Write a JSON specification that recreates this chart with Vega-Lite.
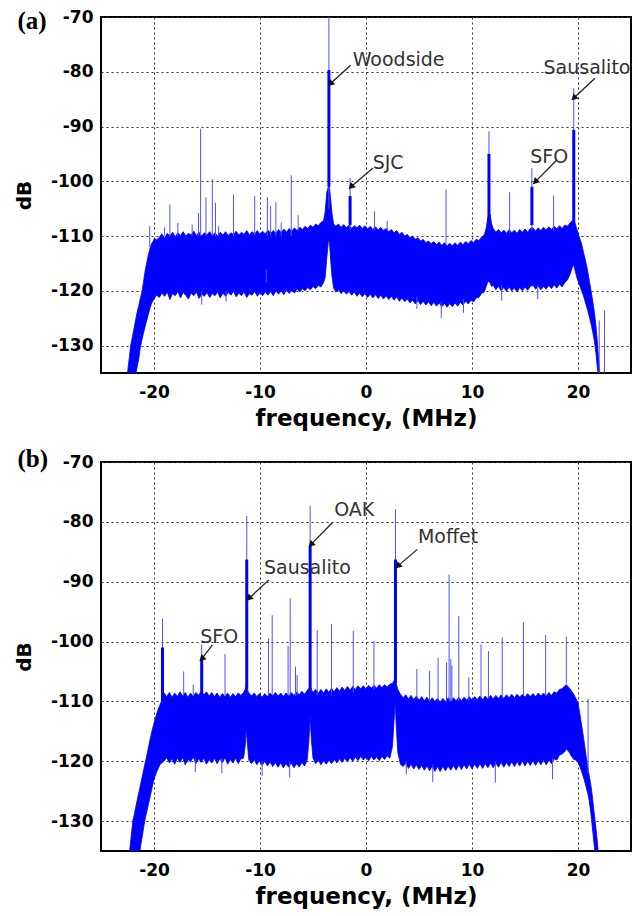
{
"$schema": "https://vega.github.io/schema/vega-lite/v6.json",
"padding": {"left": 13, "top": 7, "right": 5, "bottom": 5},
"spacing": 15,
"datasets": {
"bandA": [
{"f":-22.6,"h":-136,"l":-136},{"f":-22.5,"h":-135,"l":-136},{"f":-22.35,"h":-132.5,"l":-136},{"f":-22.2,"h":-130,"l":-136},{"f":-22.05,"h":-128.5,"l":-136},{"f":-21.9,"h":-127,"l":-136},{"f":-21.75,"h":-125.5,"l":-135.5},{"f":-21.6,"h":-124,"l":-134},{"f":-21.45,"h":-122.8,"l":-132.5},{"f":-21.3,"h":-121.5,"l":-130.5},{"f":-21.15,"h":-120.3,"l":-129},{"f":-21.0,"h":-118.5,"l":-127.8},{"f":-20.85,"h":-116.5,"l":-126.6},{"f":-20.7,"h":-115,"l":-125.5},{"f":-20.55,"h":-113.6,"l":-124.4},{"f":-20.4,"h":-112.4,"l":-123.3},{"f":-20.25,"h":-111.5,"l":-122.4},{"f":-20.1,"h":-111.0,"l":-121.8},{"f":-19.95,"h":-110.4,"l":-121.3},{"f":-19.75,"h":-110.7,"l":-120.8},
{"f":-19.5,"h":-110.2,"l":-121.2},{"f":-19.25,"h":-109.6,"l":-120.4},{"f":-19.0,"h":-110.4,"l":-121.0},{"f":-18.75,"h":-109.5,"l":-120.2},{"f":-18.5,"h":-110.0,"l":-121.6},{"f":-18.25,"h":-109.3,"l":-120.5},{"f":-18.0,"h":-110.1,"l":-120.9},{"f":-17.75,"h":-109.4,"l":-120.1},{"f":-17.5,"h":-109.9,"l":-121.3},{"f":-17.25,"h":-109.2,"l":-120.3},{"f":-17.0,"h":-110.0,"l":-120.8},{"f":-16.75,"h":-109.5,"l":-121.5},{"f":-16.5,"h":-109.8,"l":-120.4},{"f":-16.25,"h":-109.1,"l":-120.9},{"f":-16.0,"h":-109.9,"l":-120.2},{"f":-15.75,"h":-109.3,"l":-121.4},{"f":-15.5,"h":-110.0,"l":-120.6},{"f":-15.25,"h":-109.4,"l":-121.0},{"f":-15.0,"h":-109.8,"l":-120.3},{"f":-14.75,"h":-109.2,"l":-121.2},{"f":-14.5,"h":-109.9,"l":-120.5},{"f":-14.25,"h":-109.4,"l":-120.9},{"f":-14.0,"h":-110.0,"l":-120.2},{"f":-13.75,"h":-109.3,"l":-121.3},{"f":-13.5,"h":-109.8,"l":-120.4},{"f":-13.25,"h":-109.2,"l":-121.0},{"f":-13.0,"h":-109.9,"l":-120.3},{"f":-12.75,"h":-109.4,"l":-120.8},{"f":-12.5,"h":-109.7,"l":-120.1},{"f":-12.25,"h":-109.1,"l":-121.1},{"f":-12.0,"h":-109.8,"l":-120.4},{"f":-11.75,"h":-109.3,"l":-120.9},{"f":-11.5,"h":-109.7,"l":-120.2},{"f":-11.25,"h":-109.0,"l":-121.2},{"f":-11.0,"h":-109.8,"l":-120.5},{"f":-10.75,"h":-109.2,"l":-120.8},{"f":-10.5,"h":-109.6,"l":-120.1},{"f":-10.25,"h":-109.0,"l":-121.0},{"f":-10.0,"h":-109.7,"l":-120.3},{"f":-9.75,"h":-109.1,"l":-120.9},{"f":-9.5,"h":-109.6,"l":-120.2},{"f":-9.25,"h":-108.9,"l":-120.8},{"f":-9.0,"h":-109.5,"l":-120.1},{"f":-8.75,"h":-109.0,"l":-120.9},{"f":-8.5,"h":-109.5,"l":-120.0},{"f":-8.25,"h":-108.8,"l":-120.6},{"f":-8.0,"h":-109.4,"l":-120.0},{"f":-7.75,"h":-108.7,"l":-120.7},{"f":-7.5,"h":-109.3,"l":-119.8},{"f":-7.25,"h":-108.6,"l":-120.5},{"f":-7.0,"h":-109.1,"l":-119.9},{"f":-6.75,"h":-108.5,"l":-120.4},{"f":-6.5,"h":-109.0,"l":-119.7},{"f":-6.25,"h":-108.4,"l":-120.2},{"f":-6.0,"h":-108.8,"l":-119.6},{"f":-5.75,"h":-108.2,"l":-120.0},{"f":-5.5,"h":-108.6,"l":-119.4},{"f":-5.25,"h":-108.0,"l":-119.8},{"f":-5.0,"h":-108.4,"l":-119.2},{"f":-4.75,"h":-107.8,"l":-119.6},{"f":-4.5,"h":-108.1,"l":-119.0},{"f":-4.25,"h":-107.5,"l":-119.3},{"f":-4.0,"h":-107.2,"l":-118.5},{"f":-3.85,"h":-105.5,"l":-117.5},{"f":-3.7,"h":-102,"l":-114},{"f":-3.55,"h":-101,"l":-111},{"f":-3.45,"h":-101,"l":-111},{"f":-3.35,"h":-103,"l":-114},{"f":-3.2,"h":-106,"l":-117.5},{"f":-3.05,"h":-107.8,"l":-119.5},
{"f":-2.85,"h":-108.2,"l":-120.2},{"f":-2.6,"h":-107.8,"l":-119.8},{"f":-2.35,"h":-108.4,"l":-120.5},{"f":-2.1,"h":-107.9,"l":-120.0},{"f":-1.85,"h":-108.5,"l":-120.6},{"f":-1.6,"h":-108.0,"l":-120.1},{"f":-1.35,"h":-108.6,"l":-120.8},{"f":-1.1,"h":-108.1,"l":-120.2},{"f":-0.85,"h":-108.5,"l":-121.0},{"f":-0.6,"h":-108.0,"l":-120.4},{"f":-0.35,"h":-108.6,"l":-121.1},{"f":-0.1,"h":-108.1,"l":-120.5},{"f":0.15,"h":-108.7,"l":-121.2},{"f":0.4,"h":-108.2,"l":-120.6},{"f":0.65,"h":-108.8,"l":-121.3},{"f":0.9,"h":-108.3,"l":-120.7},{"f":1.15,"h":-108.9,"l":-121.4},{"f":1.4,"h":-108.4,"l":-120.8},{"f":1.65,"h":-109.0,"l":-121.5},{"f":1.9,"h":-108.6,"l":-120.9},{"f":2.15,"h":-109.2,"l":-121.6},{"f":2.4,"h":-108.8,"l":-121.0},{"f":2.65,"h":-109.4,"l":-121.7},{"f":2.9,"h":-109.0,"l":-121.1},{"f":3.15,"h":-109.7,"l":-121.9},{"f":3.4,"h":-109.3,"l":-121.3},{"f":3.65,"h":-110.0,"l":-122.0},{"f":3.9,"h":-109.7,"l":-121.5},{"f":4.15,"h":-110.3,"l":-122.2},{"f":4.4,"h":-110.0,"l":-121.7},{"f":4.65,"h":-110.6,"l":-122.4},{"f":4.9,"h":-110.3,"l":-121.8},{"f":5.15,"h":-110.9,"l":-122.5},{"f":5.4,"h":-110.6,"l":-121.9},{"f":5.65,"h":-111.2,"l":-122.6},{"f":5.9,"h":-110.9,"l":-122.0},{"f":6.15,"h":-111.4,"l":-122.7},{"f":6.4,"h":-111.0,"l":-122.1},{"f":6.65,"h":-111.6,"l":-122.8},{"f":6.9,"h":-111.1,"l":-122.2},{"f":7.15,"h":-111.7,"l":-122.9},{"f":7.4,"h":-111.2,"l":-122.3},{"f":7.65,"h":-111.8,"l":-123.0},{"f":7.9,"h":-111.3,"l":-122.3},{"f":8.15,"h":-111.8,"l":-122.9},{"f":8.4,"h":-111.2,"l":-122.2},{"f":8.65,"h":-111.7,"l":-122.8},{"f":8.9,"h":-111.1,"l":-122.1},{"f":9.15,"h":-111.6,"l":-122.6},{"f":9.4,"h":-111.0,"l":-121.9},{"f":9.65,"h":-111.4,"l":-122.4},{"f":9.9,"h":-110.8,"l":-121.7},{"f":10.15,"h":-111.2,"l":-122.0},{"f":10.4,"h":-110.6,"l":-121.3},{"f":10.65,"h":-110.8,"l":-121.2},{"f":10.9,"h":-110.2,"l":-120.5},{"f":11.15,"h":-109.8,"l":-120.2},{"f":11.35,"h":-108.5,"l":-119.2},{"f":11.5,"h":-106.5,"l":-118.2},{"f":11.7,"h":-106.0,"l":-118.5},{"f":11.85,"h":-107.8,"l":-119.2},{"f":12.0,"h":-108.6,"l":-119.0},{"f":12.25,"h":-109.3,"l":-119.8},{"f":12.5,"h":-108.8,"l":-119.2},{"f":12.75,"h":-109.4,"l":-120.0},{"f":13.0,"h":-108.9,"l":-119.4},{"f":13.25,"h":-109.5,"l":-120.1},{"f":13.5,"h":-108.8,"l":-119.3},{"f":13.75,"h":-109.4,"l":-120.0},{"f":14.0,"h":-108.9,"l":-119.5},{"f":14.25,"h":-109.5,"l":-120.2},{"f":14.5,"h":-108.8,"l":-119.4},{"f":14.75,"h":-109.3,"l":-120.0},{"f":15.0,"h":-108.7,"l":-119.3},{"f":15.25,"h":-109.3,"l":-119.9},{"f":15.5,"h":-108.6,"l":-119.2},{"f":15.75,"h":-108.5,"l":-119.0},{"f":16.0,"h":-109.1,"l":-119.7},{"f":16.25,"h":-108.5,"l":-119.1},{"f":16.5,"h":-109.0,"l":-119.8},{"f":16.75,"h":-108.4,"l":-119.2},{"f":17.0,"h":-108.9,"l":-119.7},{"f":17.25,"h":-108.3,"l":-119.0},{"f":17.5,"h":-108.8,"l":-119.6},{"f":17.75,"h":-108.2,"l":-118.9},{"f":18.0,"h":-108.7,"l":-119.5},{"f":18.25,"h":-108.1,"l":-118.8},{"f":18.5,"h":-108.6,"l":-119.3},{"f":18.75,"h":-108.0,"l":-118.5},{"f":19.0,"h":-108.2,"l":-118.0},{"f":19.25,"h":-107.6,"l":-117.0},{"f":19.45,"h":-107.2,"l":-115.8},{"f":19.6,"h":-107.0,"l":-115.2},{"f":19.75,"h":-107.8,"l":-116.5},{"f":19.9,"h":-108.8,"l":-117.6},{"f":20.05,"h":-109.8,"l":-118.5},{"f":20.2,"h":-110.6,"l":-119.2},{"f":20.35,"h":-111.5,"l":-120.0},{"f":20.5,"h":-112.8,"l":-120.8},{"f":20.65,"h":-114.0,"l":-121.8},{"f":20.8,"h":-115.3,"l":-122.8},{"f":20.95,"h":-116.8,"l":-123.8},{"f":21.1,"h":-118.5,"l":-125.0},{"f":21.25,"h":-120.2,"l":-126.2},{"f":21.4,"h":-122.0,"l":-127.6},{"f":21.55,"h":-124.0,"l":-129.2},{"f":21.7,"h":-126.5,"l":-131.5},{"f":21.85,"h":-130.0,"l":-134.5},{"f":22.0,"h":-134,"l":-136},{"f":22.1,"h":-136,"l":-136}
],
"spikesA": [
{"f":-20.4,"h":-108.2,"l":-112},{"f":-19.0,"h":-108.4,"l":-110},{"f":-18.5,"h":-104.2,"l":-110},{"f":-17.75,"h":-107.6,"l":-110},{"f":-16.4,"h":-107.9,"l":-110},{"f":-15.8,"h":-105.8,"l":-110},{"f":-15.6,"h":-90.4,"l":-110},{"f":-15.1,"h":-102.9,"l":-110},{"f":-14.5,"h":-99.6,"l":-110},{"f":-14.2,"h":-103.9,"l":-110},{"f":-13.9,"h":-108.2,"l":-110},{"f":-12.5,"h":-102.4,"l":-110},{"f":-10.5,"h":-102.7,"l":-110},{"f":-9.3,"h":-102.9,"l":-110},{"f":-9.0,"h":-104.5,"l":-110},{"f":-8.5,"h":-103.8,"l":-110},{"f":-8.0,"h":-107.5,"l":-110},{"f":-7.05,"h":-98.9,"l":-110},{"f":-6.4,"h":-106.2,"l":-109},{"f":-3.5,"h":-70,"l":-105},{"f":-1.5,"h":-99.4,"l":-109},{"f":0.8,"h":-105.5,"l":-109},{"f":2.0,"h":-107.2,"l":-109},{"f":7.55,"h":-101.5,"l":-111.5},{"f":11.6,"h":-90.9,"l":-108},{"f":13.55,"h":-102,"l":-109.5},{"f":15.65,"h":-97.6,"l":-109},{"f":17.7,"h":-102.6,"l":-109},{"f":19.6,"h":-83,"l":-108},{"f":22.0,"h":-125.4,"l":-136},{"f":22.5,"h":-123.6,"l":-136},
{"f":-15.5,"h":-120,"l":-122.5},{"f":-13.2,"h":-120,"l":-122},{"f":-9.4,"h":-116,"l":-118.5},{"f":4.8,"h":-121,"l":-123.3},{"f":7.1,"h":-122,"l":-125},{"f":9.2,"h":-121.5,"l":-124},{"f":12.8,"h":-119,"l":-121.8},{"f":16.2,"h":-119,"l":-121.5}
],
"thickA": [
{"f":-3.5,"h":-79.7,"l":-101},{"f":-1.5,"h":-102.7,"l":-108},{"f":11.6,"h":-95,"l":-108},{"f":15.65,"h":-101,"l":-108},{"f":19.6,"h":-90.6,"l":-108}
],
"labelsA": [
{"f":-1.26,"h":-77.85,"t":"Woodside"},{"f":16.75,"h":-79.4,"t":"Sausalito"},{"f":0.63,"h":-96.7,"t":"SJC"},{"f":15.5,"h":-95.5,"t":"SFO"}
],
"arrowsA": [
{"f":-3.37,"h":-82.2,"fs":-1.45,"hs":-78.8},{"f":19.6,"h":-84.8,"fs":21.6,"hs":-81.2},{"f":-1.42,"h":-101,"fs":0.63,"hs":-97.6},{"f":15.96,"h":-100.1,"fs":18.0,"hs":-96.1}
],
"bandB": [
{"f":-22.45,"h":-136,"l":-136},{"f":-22.3,"h":-135,"l":-136},{"f":-22.15,"h":-132.5,"l":-136},{"f":-22.0,"h":-130,"l":-136},{"f":-21.85,"h":-128.8,"l":-136},{"f":-21.7,"h":-127.5,"l":-136},{"f":-21.55,"h":-126.2,"l":-136},{"f":-21.4,"h":-125,"l":-136},{"f":-21.25,"h":-123.7,"l":-134},{"f":-21.1,"h":-122.5,"l":-132.5},{"f":-20.95,"h":-121.2,"l":-130.8},{"f":-20.8,"h":-120,"l":-129.3},{"f":-20.65,"h":-118.8,"l":-128.2},{"f":-20.5,"h":-117.5,"l":-127},{"f":-20.35,"h":-116.2,"l":-125.8},{"f":-20.2,"h":-115,"l":-124.6},{"f":-20.05,"h":-114,"l":-123.4},{"f":-19.9,"h":-113,"l":-122.5},{"f":-19.75,"h":-112.1,"l":-121.8},{"f":-19.6,"h":-111.3,"l":-121.2},{"f":-19.45,"h":-110.6,"l":-120.6},{"f":-19.3,"h":-110.0,"l":-120.3},
{"f":-19.05,"h":-108.6,"l":-120.0},{"f":-18.8,"h":-109.2,"l":-119.4},{"f":-18.55,"h":-108.5,"l":-120.3},{"f":-18.3,"h":-109.3,"l":-119.6},{"f":-18.05,"h":-108.6,"l":-120.5},{"f":-17.8,"h":-109.2,"l":-119.5},{"f":-17.55,"h":-108.4,"l":-120.2},{"f":-17.3,"h":-109.1,"l":-119.4},{"f":-17.05,"h":-108.5,"l":-120.6},{"f":-16.8,"h":-109.3,"l":-119.7},{"f":-16.55,"h":-108.6,"l":-120.1},{"f":-16.3,"h":-109.2,"l":-119.3},{"f":-16.05,"h":-108.5,"l":-120.4},{"f":-15.8,"h":-109.0,"l":-119.6},{"f":-15.55,"h":-108.3,"l":-120.2},{"f":-15.3,"h":-108.9,"l":-119.5},{"f":-15.05,"h":-108.4,"l":-120.5},{"f":-14.8,"h":-109.1,"l":-119.7},{"f":-14.55,"h":-108.5,"l":-120.3},{"f":-14.3,"h":-109.2,"l":-119.5},{"f":-14.05,"h":-108.6,"l":-120.4},{"f":-13.8,"h":-109.3,"l":-119.6},{"f":-13.55,"h":-108.7,"l":-120.2},{"f":-13.3,"h":-109.2,"l":-119.4},{"f":-13.05,"h":-108.6,"l":-120.5},{"f":-12.8,"h":-109.3,"l":-119.7},{"f":-12.55,"h":-108.7,"l":-120.3},{"f":-12.3,"h":-109.2,"l":-119.5},{"f":-12.05,"h":-108.6,"l":-120.4},{"f":-11.8,"h":-109.0,"l":-119.6},{"f":-11.55,"h":-108.5,"l":-119.5},{"f":-11.4,"h":-108.0,"l":-117.5},{"f":-11.3,"h":-107.5,"l":-114.5},{"f":-11.2,"h":-108.0,"l":-117.0},{"f":-11.05,"h":-108.6,"l":-119.8},{"f":-10.8,"h":-109.1,"l":-120.4},{"f":-10.55,"h":-108.6,"l":-119.7},{"f":-10.3,"h":-109.2,"l":-120.6},{"f":-10.05,"h":-108.7,"l":-119.9},{"f":-9.8,"h":-109.3,"l":-120.7},{"f":-9.55,"h":-108.7,"l":-120.0},{"f":-9.3,"h":-109.2,"l":-120.8},{"f":-9.05,"h":-108.6,"l":-120.1},{"f":-8.8,"h":-109.1,"l":-120.9},{"f":-8.55,"h":-108.5,"l":-120.2},{"f":-8.3,"h":-109.1,"l":-121.0},{"f":-8.05,"h":-108.6,"l":-120.3},{"f":-7.8,"h":-109.2,"l":-121.1},{"f":-7.55,"h":-108.6,"l":-120.4},{"f":-7.3,"h":-109.1,"l":-121.0},{"f":-7.05,"h":-108.5,"l":-120.3},{"f":-6.8,"h":-109.0,"l":-121.1},{"f":-6.55,"h":-108.4,"l":-120.4},{"f":-6.3,"h":-108.9,"l":-121.0},{"f":-6.05,"h":-108.3,"l":-120.2},{"f":-5.8,"h":-108.8,"l":-120.8},{"f":-5.55,"h":-108.2,"l":-119.8},{"f":-5.4,"h":-107.8,"l":-117},{"f":-5.27,"h":-107.5,"l":-112.5},{"f":-5.15,"h":-108.0,"l":-116.5},{"f":-5.0,"h":-108.5,"l":-119.5},{"f":-4.75,"h":-108.0,"l":-120.4},{"f":-4.5,"h":-108.6,"l":-119.8},{"f":-4.25,"h":-108.0,"l":-120.6},{"f":-4.0,"h":-108.6,"l":-119.9},{"f":-3.75,"h":-107.9,"l":-120.5},{"f":-3.5,"h":-108.5,"l":-119.8},{"f":-3.25,"h":-107.8,"l":-120.4},{"f":-3.0,"h":-108.4,"l":-119.7},{"f":-2.75,"h":-107.7,"l":-120.3},{"f":-2.5,"h":-108.3,"l":-119.6},{"f":-2.25,"h":-107.6,"l":-120.2},{"f":-2.0,"h":-108.2,"l":-119.5},{"f":-1.75,"h":-107.5,"l":-120.1},{"f":-1.5,"h":-108.1,"l":-119.4},{"f":-1.25,"h":-107.5,"l":-120.0},{"f":-1.0,"h":-108.0,"l":-119.3},{"f":-0.75,"h":-107.4,"l":-119.9},{"f":-0.5,"h":-107.9,"l":-119.2},{"f":-0.25,"h":-107.4,"l":-119.8},{"f":0.0,"h":-107.9,"l":-119.3},{"f":0.25,"h":-107.3,"l":-119.9},{"f":0.5,"h":-107.8,"l":-119.2},{"f":0.75,"h":-107.3,"l":-119.8},{"f":1.0,"h":-107.8,"l":-119.3},{"f":1.25,"h":-107.2,"l":-119.9},{"f":1.5,"h":-107.7,"l":-119.2},{"f":1.75,"h":-107.2,"l":-119.7},{"f":2.0,"h":-107.6,"l":-119.1},{"f":2.25,"h":-107.1,"l":-119.5},{"f":2.5,"h":-107.0,"l":-117.5},{"f":2.65,"h":-106.5,"l":-113},{"f":2.75,"h":-106.5,"l":-110},{"f":2.85,"h":-107,"l":-114},{"f":3.0,"h":-108.0,"l":-118.5},{"f":3.25,"h":-108.8,"l":-120.5},{"f":3.5,"h":-109.4,"l":-120.9},{"f":3.75,"h":-108.9,"l":-120.3},{"f":4.0,"h":-109.6,"l":-121.2},{"f":4.25,"h":-109.0,"l":-120.5},{"f":4.5,"h":-109.7,"l":-121.3},{"f":4.75,"h":-109.1,"l":-120.6},{"f":5.0,"h":-109.8,"l":-121.4},{"f":5.25,"h":-109.2,"l":-120.7},{"f":5.5,"h":-109.9,"l":-121.5},{"f":5.75,"h":-109.3,"l":-120.8},{"f":6.0,"h":-110.0,"l":-121.6},{"f":6.25,"h":-109.4,"l":-120.8},{"f":6.5,"h":-110.0,"l":-121.7},{"f":6.75,"h":-109.5,"l":-120.9},{"f":7.0,"h":-110.1,"l":-121.7},{"f":7.25,"h":-109.5,"l":-120.9},{"f":7.5,"h":-110.0,"l":-121.6},{"f":7.75,"h":-109.4,"l":-120.8},{"f":8.0,"h":-110.0,"l":-121.5},{"f":8.25,"h":-109.4,"l":-120.7},{"f":8.5,"h":-109.9,"l":-121.5},{"f":8.75,"h":-109.3,"l":-120.6},{"f":9.0,"h":-109.9,"l":-121.4},{"f":9.25,"h":-109.3,"l":-120.6},{"f":9.5,"h":-109.8,"l":-121.3},{"f":9.75,"h":-109.2,"l":-120.5},{"f":10.0,"h":-109.8,"l":-121.3},{"f":10.25,"h":-109.2,"l":-120.5},{"f":10.5,"h":-109.7,"l":-121.2},{"f":10.75,"h":-109.1,"l":-120.4},{"f":11.0,"h":-109.7,"l":-121.2},{"f":11.25,"h":-109.1,"l":-120.4},{"f":11.5,"h":-109.6,"l":-121.1},{"f":11.75,"h":-109.0,"l":-120.3},{"f":12.0,"h":-109.6,"l":-121.1},{"f":12.25,"h":-109.0,"l":-120.3},{"f":12.5,"h":-109.5,"l":-121.0},{"f":12.75,"h":-108.9,"l":-120.2},{"f":13.0,"h":-109.5,"l":-121.0},{"f":13.25,"h":-108.9,"l":-120.2},{"f":13.5,"h":-109.4,"l":-120.9},{"f":13.75,"h":-108.8,"l":-120.1},{"f":14.0,"h":-109.4,"l":-120.9},{"f":14.25,"h":-108.8,"l":-120.1},{"f":14.5,"h":-109.3,"l":-120.8},{"f":14.75,"h":-108.8,"l":-120.0},{"f":15.0,"h":-109.3,"l":-120.8},{"f":15.25,"h":-108.7,"l":-120.0},{"f":15.5,"h":-109.2,"l":-120.7},{"f":15.75,"h":-108.7,"l":-119.9},{"f":16.0,"h":-109.2,"l":-120.7},{"f":16.25,"h":-108.6,"l":-119.9},{"f":16.5,"h":-109.1,"l":-120.6},{"f":16.75,"h":-108.6,"l":-119.8},{"f":17.0,"h":-109.1,"l":-120.6},{"f":17.25,"h":-108.5,"l":-119.8},{"f":17.5,"h":-109.0,"l":-120.4},{"f":17.75,"h":-108.4,"l":-119.6},{"f":18.0,"h":-108.6,"l":-119.8},{"f":18.25,"h":-108.0,"l":-119.0},{"f":18.5,"h":-107.9,"l":-118.8},{"f":18.75,"h":-107.4,"l":-118.4},{"f":18.9,"h":-107.2,"l":-118.0},{"f":19.05,"h":-107.5,"l":-118.2},{"f":19.2,"h":-107.8,"l":-118.6},{"f":19.4,"h":-108.3,"l":-119.2},{"f":19.6,"h":-108.8,"l":-119.7},{"f":19.8,"h":-109.5,"l":-119.8},{"f":20.0,"h":-110.3,"l":-120.2},{"f":20.15,"h":-111.8,"l":-120.8},{"f":20.3,"h":-113.5,"l":-121.5},{"f":20.45,"h":-115.2,"l":-122.3},{"f":20.6,"h":-117.0,"l":-123.2},{"f":20.75,"h":-119.0,"l":-124.2},{"f":20.9,"h":-120.8,"l":-125.2},{"f":21.05,"h":-122.3,"l":-126.5},{"f":21.2,"h":-123.8,"l":-128.5},{"f":21.35,"h":-125.8,"l":-131},{"f":21.5,"h":-128.2,"l":-133.5},{"f":21.65,"h":-130.5,"l":-136},{"f":21.8,"h":-133,"l":-136},{"f":21.95,"h":-136,"l":-136}
],
"spikesB": [
{"f":-19.2,"h":-96.2,"l":-110},{"f":-17.2,"h":-105,"l":-109},{"f":-16.3,"h":-107.2,"l":-109},{"f":-15.5,"h":-100.5,"l":-109},{"f":-13.3,"h":-102.1,"l":-109},{"f":-11.25,"h":-79.0,"l":-108},{"f":-9.2,"h":-99.5,"l":-109},{"f":-8.85,"h":-95.6,"l":-109},{"f":-7.35,"h":-100.7,"l":-109},{"f":-7.15,"h":-92.8,"l":-109},{"f":-6.65,"h":-104.2,"l":-109},{"f":-6.5,"h":-105.6,"l":-109},{"f":-5.27,"h":-77.3,"l":-108},{"f":-4.6,"h":-98.1,"l":-109},{"f":-3.25,"h":-97.1,"l":-109},{"f":-1.2,"h":-98.2,"l":-108.5},{"f":0.75,"h":-99.9,"l":-108},{"f":2.78,"h":-77.9,"l":-107},{"f":4.8,"h":-104.6,"l":-109.5},{"f":6.0,"h":-104.9,"l":-110},{"f":6.8,"h":-102.7,"l":-110},{"f":7.6,"h":-103.5,"l":-110},{"f":7.84,"h":-88.8,"l":-110},{"f":8.0,"h":-102.9,"l":-110},{"f":8.1,"h":-104,"l":-110},{"f":8.75,"h":-95.7,"l":-110},{"f":9.7,"h":-106,"l":-110},{"f":10.85,"h":-100.5,"l":-109.5},{"f":11.55,"h":-101.6,"l":-109.5},{"f":12.85,"h":-99.3,"l":-109.5},{"f":14.85,"h":-96.8,"l":-109},{"f":16.95,"h":-98.9,"l":-109},{"f":18.9,"h":-99.2,"l":-107},{"f":20.95,"h":-109.6,"l":-122},
{"f":-16.1,"h":-119.5,"l":-121.8},{"f":-13.6,"h":-119.5,"l":-122},{"f":-9.8,"h":-120,"l":-122.5},{"f":-7.2,"h":-120,"l":-122.7},{"f":3.8,"h":-120,"l":-122.2},{"f":6.3,"h":-120.5,"l":-123.5},{"f":12.2,"h":-120,"l":-123.6},{"f":17.6,"h":-119.5,"l":-123}
],
"thickB": [
{"f":-19.2,"h":-101,"l":-110},{"f":-15.5,"h":-103,"l":-109},{"f":-11.25,"h":-86.3,"l":-108},{"f":-5.27,"h":-84,"l":-108},{"f":2.78,"h":-86.3,"l":-107}
],
"labelsB": [
{"f":-3.0,"h":-78.1,"t":"OAK"},{"f":4.9,"h":-82.6,"t":"Moffet"},{"f":-9.63,"h":-87.7,"t":"Sausalito"},{"f":-15.64,"h":-99.2,"t":"SFO"}
],
"arrowsB": [
{"f":-5.2,"h":-83.8,"fs":-3.16,"hs":-80.1},{"f":3.0,"h":-87.4,"fs":4.83,"hs":-84.6},{"f":-11.05,"h":-92.8,"fs":-9.16,"hs":-89.7},{"f":-15.5,"h":-102.9,"fs":-14.5,"hs":-100.6}
]
},
"vconcat": [
{
"title": {"text": "(a)", "anchor": "start", "frame": "bounds", "font": "Liberation Serif", "fontSize": 25, "fontWeight": "bold", "color": "black", "offset": 0, "dy": 26, "dx": 3},
"width": 530, "height": 356,
"encoding": {
"x": {"field": "f", "type": "quantitative", "title": "frequency, (MHz)", "scale": {"domain": [-25, 25], "nice": false, "zero": false}, "axis": {"values": [-20, -10, 0, 10, 20]}},
"y": {"field": "h", "type": "quantitative", "title": "dB", "scale": {"domain": [-135, -70], "nice": false, "zero": false}, "axis": {"values": [-130, -120, -110, -100, -90, -80, -70]}}
},
"layer": [
{"data": {"name": "bandA"}, "mark": {"type": "area", "color": "#0000ff", "opacity": 1, "stroke": "#0000ff", "strokeWidth": 0.8, "clip": true}, "encoding": {"y2": {"field": "l"}}},
{"data": {"name": "spikesA"}, "mark": {"type": "rule", "color": "#5050ff", "strokeWidth": 1, "clip": true}, "encoding": {"y2": {"field": "l"}}},
{"data": {"name": "thickA"}, "mark": {"type": "rule", "color": "#0000ff", "strokeWidth": 3, "clip": true}, "encoding": {"y2": {"field": "l"}}},
{"data": {"name": "arrowsA"}, "mark": {"type": "rule", "color": "#222222", "strokeWidth": 1.3}, "encoding": {"x2": {"field": "fs"}, "y2": {"field": "hs"}}},
{"data": {"name": "arrowsA"}, "mark": {"type": "point", "shape": "triangle-up", "filled": true, "color": "#111111", "size": 55, "angle": 225, "opacity": 1}},
{"data": {"name": "labelsA"}, "mark": {"type": "text", "align": "left", "baseline": "middle", "font": "DejaVu Sans", "fontSize": 19, "color": "#333333"}, "encoding": {"text": {"field": "t"}}}
]
},
{
"title": {"text": "(b)", "anchor": "start", "frame": "bounds", "font": "Liberation Serif", "fontSize": 25, "fontWeight": "bold", "color": "black", "offset": 0, "dy": 19, "dx": 3},
"width": 530, "height": 389,
"encoding": {
"x": {"field": "f", "type": "quantitative", "title": "frequency, (MHz)", "scale": {"domain": [-25, 25], "nice": false, "zero": false}, "axis": {"values": [-20, -10, 0, 10, 20]}},
"y": {"field": "h", "type": "quantitative", "title": "dB", "scale": {"domain": [-135, -70], "nice": false, "zero": false}, "axis": {"values": [-130, -120, -110, -100, -90, -80, -70]}}
},
"layer": [
{"data": {"name": "bandB"}, "mark": {"type": "area", "color": "#0000ff", "opacity": 1, "stroke": "#0000ff", "strokeWidth": 0.8, "clip": true}, "encoding": {"y2": {"field": "l"}}},
{"data": {"name": "spikesB"}, "mark": {"type": "rule", "color": "#5050ff", "strokeWidth": 1, "clip": true}, "encoding": {"y2": {"field": "l"}}},
{"data": {"name": "thickB"}, "mark": {"type": "rule", "color": "#0000ff", "strokeWidth": 3, "clip": true}, "encoding": {"y2": {"field": "l"}}},
{"data": {"name": "arrowsB"}, "mark": {"type": "rule", "color": "#222222", "strokeWidth": 1.3}, "encoding": {"x2": {"field": "fs"}, "y2": {"field": "hs"}}},
{"data": {"name": "arrowsB"}, "mark": {"type": "point", "shape": "triangle-up", "filled": true, "color": "#111111", "size": 55, "angle": 225, "opacity": 1}},
{"data": {"name": "labelsB"}, "mark": {"type": "text", "align": "left", "baseline": "middle", "font": "DejaVu Sans", "fontSize": 19, "color": "#333333"}, "encoding": {"text": {"field": "t"}}}
]
}
],
"config": {
"view": {"stroke": "black", "strokeWidth": 2},
"axis": {"grid": true, "gridDash": [2, 3], "gridColor": "#333333", "gridOpacity": 1, "domain": false, "ticks": false, "labelFont": "DejaVu Sans", "labelFontWeight": "bold", "labelFontSize": 17, "labelColor": "black", "labelOverlap": false, "labelExpr": "replace(datum.label, '\u2212', '-')", "titleFont": "DejaVu Sans", "titleFontWeight": "bold", "titleColor": "black"},
"axisX": {"labelPadding": 11, "titleFontSize": 23, "titlePadding": 7, "labelFlush": false},
"axisY": {"labelPadding": 8, "titleFontSize": 20, "titlePadding": 16}
}
}
